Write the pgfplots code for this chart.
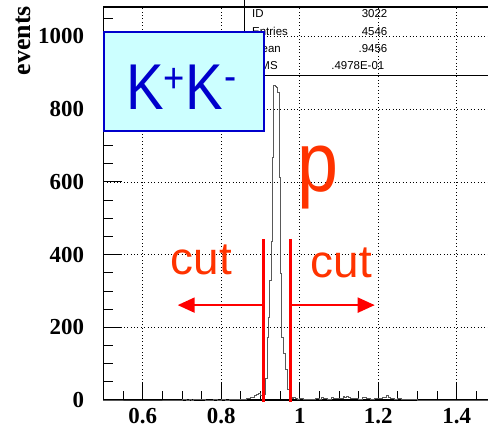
\documentclass[border=0pt]{standalone}
\usepackage{pgfplots}
\pgfplotsset{compat=1.18}
\usetikzlibrary{arrows.meta}
\usepackage{fontspec}
\setmainfont{Liberation Serif}
\newfontfamily\hv{Liberation Sans}
\definecolor{kbox}{RGB}{204,255,255}
\definecolor{kblue}{RGB}{0,0,204}
\definecolor{lbl}{RGB}{255,51,0}
\begin{document}
\begin{tikzpicture}
\begin{axis}[
  scale only axis, width=392.5bp, height=393bp,
  xmin=0.5, xmax=1.5, ymin=0, ymax=1081,
  clip=false,
  axis line style={line width=1.2bp},
  tick align=inside, xtick pos=left, ytick pos=left,
  major tick length=18bp, minor tick length=9bp,
  every tick/.style={black, line width=0.8bp},
  xtick={0.6,0.8,1,1.2,1.4},
  minor xtick={0.55,0.65,0.7,0.75,0.85,0.9,0.95,1.05,1.1,1.15,1.25,1.3,1.35,1.45},
  ytick={0,200,400,600,800,1000},
  minor ytick={50,100,150,250,300,350,450,500,550,650,700,750,850,900,950,1050},
  grid=major,
  major grid style={black, line width=0.7bp, dash pattern=on 0.8bp off 2.6bp},
  /pgf/number format/assume math mode=true,
  /pgf/number format/1000 sep={},
  x tick label style={font=\fontsize{23}{23}\selectfont\bfseries, yshift=-5bp},
  y tick label style={font=\fontsize{23}{23}\selectfont\bfseries, xshift=-16bp},
]
% invariant-mass histogram, peak near the phi mass
\addplot[const plot mark left, black!65, line width=0.8bp] coordinates {
  (0.50,0) (0.60,0) (0.70,1) (0.71,0) (0.72,2) (0.725,0) (0.73,3) (0.74,1)
  (0.75,2) (0.76,0) (0.78,1) (0.79,0) (0.80,1) (0.81,0) (0.82,1) (0.83,2)
  (0.84,1) (0.85,2) (0.86,3) (0.865,5) (0.87,4) (0.875,6) (0.88,8) (0.885,12)
  (0.89,15) (0.895,17) (0.90,14) (0.905,9)
  (0.9100,15) (0.9133,60) (0.9167,173) (0.9200,226) (0.9233,330) (0.9267,435)
  (0.9300,668) (0.9338,864) (0.9370,862) (0.9400,860) (0.9439,845) (0.9483,613)
  (0.9508,349) (0.9541,171) (0.9574,129) (0.9625,83) (0.9676,28) (0.9737,6)
  (0.977,8) (0.98,4) (0.985,6) (0.99,5) (0.995,3) (1.00,4) (1.01,2) (1.02,3)
  (1.03,2) (1.04,4) (1.05,3) (1.055,6) (1.06,5) (1.07,3) (1.08,6) (1.085,4)
  (1.09,5) (1.10,4) (1.11,9) (1.115,7) (1.12,10) (1.125,6) (1.13,4) (1.14,5)
  (1.15,3) (1.16,6) (1.17,4) (1.18,3) (1.19,5) (1.20,4) (1.21,6) (1.215,8)
  (1.22,14) (1.225,7) (1.23,4) (1.24,3) (1.25,5) (1.26,2) (1.27,3) (1.28,1)
  (1.29,2) (1.30,0) (1.50,0)
};
% mass window cuts
\draw[red, line width=2.4bp] (axis cs:0.908,-6) -- (axis cs:0.908,443);
\draw[red, line width=2.4bp] (axis cs:0.976,-6) -- (axis cs:0.976,443);
\draw[red, line width=2bp, -{Triangle[length=17bp,width=15bp]}]
  (axis cs:0.908,261) -- (axis cs:0.689,261);
\draw[red, line width=2bp, -{Triangle[length=17bp,width=15bp]}]
  (axis cs:0.976,261) -- (axis cs:1.191,261);
\end{axis}
% axis title
\node[rotate=90, anchor=south east, inner sep=0pt, font=\fontsize{26}{26}\selectfont\bfseries]
  at (-73bp,394bp) {events};
% statistics box
\draw[black, line width=0.8bp] (140.5bp,402bp) -- (140.5bp,325bp) -- (400bp,325bp);
\begin{scope}[font=\hv\fontsize{11.5}{11.5}\selectfont, inner sep=0pt]
  \node[anchor=base west] at (148.5bp,382bp) {ID};
  \node[anchor=base west] at (148.5bp,364bp) {Entries};
  \node[anchor=base west] at (148.5bp,347bp) {Mean};
  \node[anchor=base west] at (148.5bp,330bp) {RMS};
  \node[anchor=base east] at (284bp,382bp) {3022};
  \node[anchor=base east] at (284bp,364bp) {4546};
  \node[anchor=base east] at (284bp,347bp) {.9456};
  \node[anchor=base east] at (281bp,330bp) {.4978E-01};
\end{scope}
% channel label
\draw[kblue, line width=2bp, fill=kbox] (0.5bp,269bp) rectangle (160.5bp,368bp);
\node[anchor=base west, kblue, inner sep=0pt, xscale=0.87, font=\hv\fontsize{65}{65}\selectfont]
  at (23bp,290bp)
  {K\kern-1bp\raisebox{17bp}{\fontsize{42}{42}\selectfont +}\kern1bp K\kern2bp\raisebox{19bp}{\fontsize{42}{42}\selectfont -}};
\node[anchor=base west, lbl, inner sep=0pt, xscale=0.87, font=\hv\fontsize{85}{85}\selectfont]
  at (194bp,208bp) {p};
\node[anchor=base west, lbl, inner sep=0pt, font=\hv\fontsize{46}{46}\selectfont]
  at (67bp,125bp) {cut};
\node[anchor=base west, lbl, inner sep=0pt, font=\hv\fontsize{46}{46}\selectfont]
  at (207bp,122bp) {cut};
\pgfresetboundingbox
\useasboundingbox (-103.5bp,-32bp) rectangle (384.5bp,400bp);
\end{tikzpicture}
\end{document}
